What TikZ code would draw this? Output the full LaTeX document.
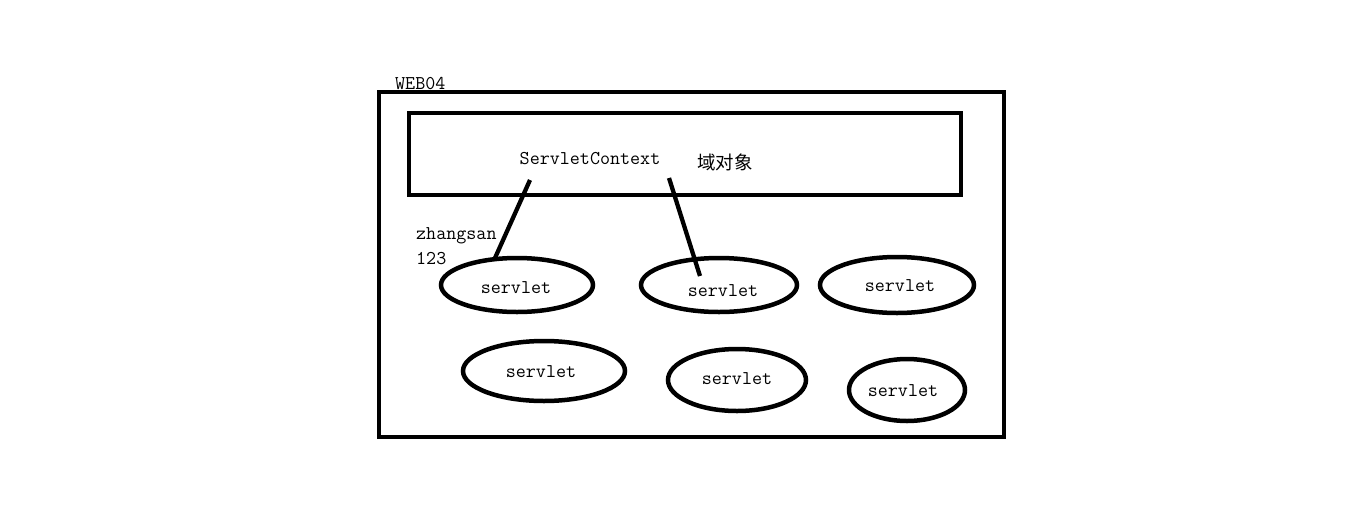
\documentclass[tikz,border=0pt]{standalone}
\usepackage{fontspec}
\newfontfamily\cjk{Noto Sans CJK SC}
\begin{document}
\begin{tikzpicture}[x=1pt,y=-1pt,
  box/.style={draw=black,line width=4.8pt},
  oval/.style={draw=black,line width=4.5pt},
  lbl/.style={inner sep=0pt,font=\fontsize{19.5}{22}\selectfont\ttfamily},
  link/.style={draw=black,line width=4.3pt}]
\useasboundingbox[fill=white] (0,0) rectangle (1360,525);
\draw[box] (379,92) rectangle (1004,437);
\draw[box] (409,113) rectangle (961,195);
\node[lbl,anchor=base west] (web) at (395,89) {WEB04};
\node[lbl] (ctx) at (590,159) {ServletContext};
\node[inner sep=0pt,font=\fontsize{18.5}{21}\cjk] (dom) at (725,162) {域对象};
\node[lbl,anchor=west] (zs) at (416,236) {zhangsan};
\node[lbl,anchor=west] (num) at (416,259) {123};
\draw[oval] (517,285) ellipse [x radius=76,y radius=27];
\draw[oval] (719,285) ellipse [x radius=78,y radius=27];
\draw[oval] (897,285) ellipse [x radius=77,y radius=28];
\draw[oval] (544,371) ellipse [x radius=81,y radius=30];
\draw[oval] (737,380) ellipse [x radius=69,y radius=31];
\draw[oval] (907,390) ellipse [x radius=58,y radius=31];
\node[lbl] (s1) at (516,288) {servlet};
\node[lbl] (s2) at (723,291) {servlet};
\node[lbl] (s3) at (900,286) {servlet};
\node[lbl] (s4) at (541,372) {servlet};
\node[lbl] (s5) at (737,379) {servlet};
\node[lbl] (s6) at (903,391) {servlet};
\coordinate (a1) at (530,180);
\coordinate (b1) at (495,258);
\coordinate (a2) at (669,178);
\coordinate (b2) at (700,276);
\draw[link] (a1) -- (b1);
\draw[link] (a2) -- (b2);
\end{tikzpicture}
\end{document}
